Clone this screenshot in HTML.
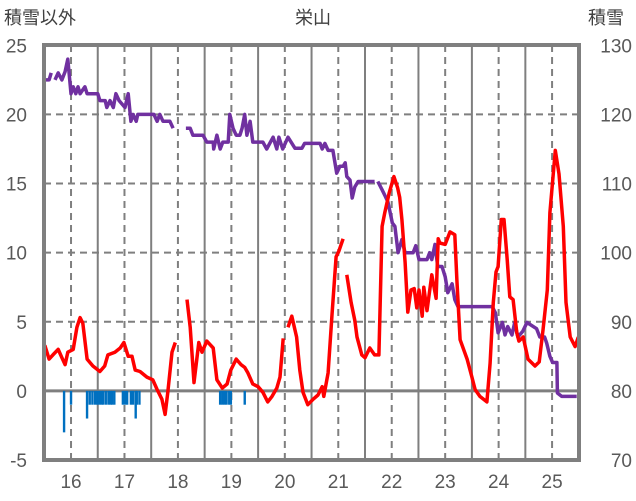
<!DOCTYPE html>
<html><head><meta charset="utf-8"><style>
html,body{margin:0;padding:0;background:#fff;}
svg{display:block;font-family:"Liberation Sans","Noto Sans CJK JP",sans-serif;}
</style></head><body>
<svg id="chart" width="636" height="501" viewBox="0 0 636 501" xmlns="http://www.w3.org/2000/svg">
<text x="4" y="24" font-size="18" fill="#404040">積雪以外</text>
<text x="313" y="24" font-size="18" fill="#404040" text-anchor="middle">栄山</text>
<text x="588" y="24" font-size="18" fill="#404040">積雪</text>
<g id="grid"></g>
<g id="bars"></g>
<g id="lines"></g>
<g id="ticks"></g>
<rect x="44" y="45" width="535" height="415" fill="none" stroke="#7f7f7f" stroke-width="4"/>
</svg>
<script>
const tempDays=[15.51,15.59,15.66,15.76,15.83,15.89,15.94,16.04,16.11,16.17,16.22,16.30,16.41,16.54,16.63,16.69,16.82,16.92,16.99,17.07,17.14,17.20,17.29,17.42,17.53,17.61,17.70,17.76,17.81,17.89,17.95,null,
18.17,18.23,18.30,18.39,18.45,18.54,18.66,18.73,18.83,18.92,18.99,19.09,19.18,19.25,19.31,19.40,19.50,19.59,19.68,19.76,19.85,19.91,19.97,null,
20.06,20.13,20.22,20.28,20.34,20.43,20.53,20.62,20.70,20.73,20.81,20.88,20.96,21.01,21.09,null,
21.16,21.24,21.31,21.35,21.44,21.50,21.59,21.68,21.76,21.82,21.87,21.95,22.04,22.11,22.15,22.19,22.25,22.30,22.36,22.42,22.47,22.51,22.57,22.60,22.66,22.75,22.83,22.87,22.90,23.00,23.09,23.18,23.22,23.28,23.41,23.50,23.56,23.65,23.78,23.84,23.90,23.95,23.99,24.05,24.10,24.16,24.21,24.27,24.34,24.38,24.46,24.55,24.68,24.76,24.83,24.91,24.96,25.06,25.13,25.21,25.26,25.34,25.43,25.49];
const tempValues=[3.3,2.3,2.6,3.0,2.4,1.9,2.8,3.0,4.6,5.3,4.9,2.3,1.8,1.4,1.8,2.6,2.8,3.1,3.5,2.5,2.5,1.5,1.4,1.0,0.8,0.1,-0.6,-1.7,-0.1,2.8,3.5,null,
6.6,4.6,0.6,3.5,2.8,3.6,3.1,0.8,0.2,0.5,1.5,2.3,1.9,1.7,1.3,0.5,0.3,-0.1,-0.8,-0.4,0.2,1.0,3.8,null,
4.6,5.4,3.9,1.5,-0.1,-1.0,-0.6,-0.3,0.3,-0.4,1.3,5.4,9.7,10.1,11.0,null,
8.4,6.4,5.1,3.9,2.6,2.4,3.1,2.6,2.6,11.9,12.9,14.3,15.5,14.7,14.0,12.4,9.3,5.7,7.3,7.4,6.0,7.3,5.4,7.5,5.8,8.4,6.7,11.0,10.7,10.6,11.5,11.3,8.0,3.7,2.3,1.0,0.1,-0.4,-0.8,2.0,6.4,8.6,9.0,12.4,12.4,9.5,6.8,6.6,4.2,3.6,3.9,2.3,1.8,2.1,4.4,7.3,12.9,17.4,15.7,11.9,6.4,3.9,3.2,3.9];
const snowDays=[15.51,15.59,15.63,null,15.70,15.76,15.83,15.89,15.94,16.00,16.04,16.09,16.13,16.17,16.26,16.30,16.50,16.54,16.64,16.67,16.73,16.79,16.84,16.90,17.01,17.07,17.12,17.16,17.22,17.25,17.35,17.55,17.61,17.66,17.72,17.85,17.91,null,
18.15,18.23,18.28,18.47,18.54,18.66,18.67,18.73,18.79,18.84,18.94,18.97,19.03,19.09,19.16,19.20,19.25,19.29,19.35,19.40,19.59,19.66,
19.78,19.85,19.89,19.96,20.06,20.19,20.32,20.37,20.47,20.66,20.70,20.75,20.81,20.90,20.97,21.03,21.09,21.13,21.16,21.22,21.26,21.31,21.37,21.59,21.68,null,
21.74,21.82,21.87,21.93,22.01,22.06,22.12,22.19,22.25,22.40,22.45,22.51,22.66,22.71,22.75,22.81,22.86,22.94,23.00,23.05,23.13,23.18,23.24,23.46,23.88,23.94,23.99,24.07,24.12,24.17,24.25,24.30,24.36,24.45,24.53,24.71,24.77,24.86,24.90,24.96,25.01,25.09,25.10,25.18,25.46];
const snowValues=[125,125,126,null,125,126,125,126.2,128,123,124,123,124,123,124,123,123,122,122,121,122,121,123,122,121,123,119,120,119,120,120,120,119,120,119,119,118,null,
118,118,117,117,116,116,115,117,115,116,116,120,118,117,117,118,120,117,119,116,116,115,
116.7,115,116.7,115,116.7,115.1,115.1,115.8,115.8,115.8,115,115.8,114.8,114.8,111.5,112.5,112.5,113,111,110.5,107.9,109.5,110.3,110.3,110.3,null,
110.3,109.1,108.3,107.3,104.3,103.8,100,101.9,100,100,101,99,99,100,99,101.2,98,98,96.5,94.2,95.5,93.2,92.2,92.2,92.2,91.3,88.4,89.9,88.1,89.3,88.1,89.9,87.8,88.6,89.9,89,87.8,87.8,86.9,85.0,84.1,84.1,79.7,79.2,79.2];
const barDays=[15.87,16.00,16.30,16.35,16.40,16.45,16.49,16.53,16.57,16.60,16.65,16.70,16.74,16.77,16.81,16.97,17.01,17.05,17.12,17.16,17.21,17.23,17.28,18.79,18.83,18.87,18.91,18.96,18.99,19.25];
const barValues=[-3,-1,-2,-1,-1,-1,-1,-1,-1,-1,-1,-1,-1,-1,-1,-1,-1,-1,-1,-1,-2,-1,-1,-1,-1,-1,-1,-1,-1,-1];
const dayTicks=[16,17,18,19,20,21,22,23,24,25];
const leftTicks=[-5,0,5,10,15,20,25];
const rightTicks=[70,80,90,100,110,120,130];

const X0=44.3,Y0=45.3,Y1=460,DAYW=53.45;
function px(d){return X0+(d-15.5)*DAYW;}
function py(v){return Y1-(v+5)*(Y1-Y0)/30;}
function pyR(s){return py((s-80)/2);}
const NS='http://www.w3.org/2000/svg';
function mk(tag,attrs,parent){const e=document.createElementNS(NS,tag);for(const k in attrs)e.setAttribute(k,attrs[k]);parent.appendChild(e);return e;}
const grid=document.getElementById('grid'),bars=document.getElementById('bars'),lines=document.getElementById('lines'),ticks=document.getElementById('ticks');

leftTicks.forEach(v=>{
  if(v===-5||v===25)return;
  const l=mk('line',{x1:44,x2:579,y1:py(v),y2:py(v),stroke:'#7f7f7f','stroke-width':v===0?3:2,'stroke-dasharray':v===0?'none':'7 5'},grid);
  
  
});
dayTicks.forEach(d=>{
  const l=mk('line',{x1:px(d),x2:px(d),y1:45,y2:460,stroke:'#7f7f7f','stroke-width':2,'stroke-dasharray':'7 5'},grid);
  
  
  const h=mk('line',{x1:px(d+0.5),x2:px(d+0.5),y1:45,y2:460,stroke:'#7f7f7f','stroke-width':2},grid);
  
  
  const t=mk('text',{x:px(d),y:488,'font-size':19,fill:'#595959','text-anchor':'middle'},ticks);
  t.textContent=d;
  
  
});
leftTicks.forEach(v=>{
  const t=mk('text',{x:27,y:py(v)+7,'font-size':19,fill:'#595959','text-anchor':'end'},ticks);
  t.textContent=v;
  
  
});
rightTicks.forEach(s=>{
  const t=mk('text',{x:632,y:pyR(s)+7,'font-size':19,fill:'#595959','text-anchor':'end'},ticks);
  t.textContent=s;
  
  
});
barDays.forEach((d,i)=>{
  const y0=py(0),y=py(barValues[i]);
  const r=mk('rect',{x:px(d)-1.2,y:Math.min(y0,y),width:2.4,height:Math.abs(y-y0),fill:'#0070c0'},bars);
  
  
});
function pathFrom(days,vals,fy){
  let d='',pen=false;
  for(let i=0;i<days.length;i++){
    if(days[i]===null||vals[i]===null){pen=false;continue;}
    d+=(pen?'L':'M')+px(days[i]).toFixed(1)+' '+fy(vals[i]).toFixed(1)+' ';pen=true;
  }
  return d;
}
const snow=mk('path',{d:pathFrom(snowDays,snowValues,pyR),fill:'none',stroke:'#7030a0','stroke-width':3.5,'stroke-linejoin':'round'},lines);


const temp=mk('path',{d:pathFrom(tempDays,tempValues,py),fill:'none',stroke:'#ff0000','stroke-width':3.5,'stroke-linejoin':'round'},lines);


</script>
</body></html>
